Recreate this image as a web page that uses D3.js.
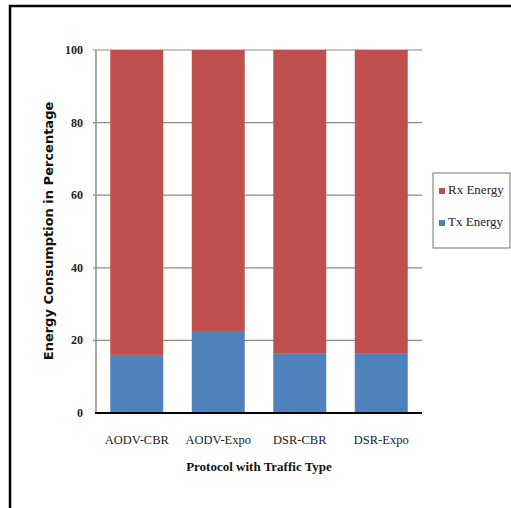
<!DOCTYPE html>
<html>
<head>
<meta charset="utf-8">
<script src="https://cdn.jsdelivr.net/npm/d3@7"></script>
<style>
  body { margin: 0; background: #fff; }
</style>
</head>
<body>
<script>
// chart data
const categories = ["AODV-CBR", "AODV-Expo", "DSR-CBR", "DSR-Expo"];
const txEnergy = [16.0, 22.6, 16.3, 16.5];
const rxEnergy = [84.0, 77.4, 83.7, 83.5];
const yTicks = [0, 20, 40, 60, 80, 100];
const seriesNames = ["Rx Energy", "Tx Energy"];
const seriesColors = ["#C0504D", "#4F81BD"];

const W = 511, H = 508;
const svg = d3.select("body").append("svg")
  .attr("width", W).attr("height", H);

// outer frame (top and left only)
svg.append("line").attr("x1", 9).attr("x2", W).attr("y1", 6).attr("y2", 6)
  .attr("stroke", "#000").attr("stroke-width", 2.5);
svg.append("line").attr("x1", 10).attr("x2", 10).attr("y1", 5).attr("y2", H)
  .attr("stroke", "#000").attr("stroke-width", 2.5);

const plotL = 96, plotR = 422, plotT = 50, plotB = 413;

const x = d3.scaleBand().domain(categories).range([plotL, plotR]).paddingInner(0.35).paddingOuter(0.175);
const y = d3.scaleLinear().domain([0, 100]).range([plotB, plotT]);

// gridlines
svg.append("g")
  .selectAll("line")
  .data(yTicks.filter(d => d > 0))
  .join("line")
  .attr("x1", plotL - 3).attr("x2", plotR)
  .attr("y1", d => y(d)).attr("y2", d => y(d))
  .attr("stroke", "#8c8c8c").attr("stroke-width", 1.2);

// y axis line
svg.append("line").attr("x1", plotL).attr("x2", plotL).attr("y1", plotT).attr("y2", plotB)
  .attr("stroke", "#8c8c8c").attr("stroke-width", 1.5);

// stacked bars
const rows = categories.map((c, i) => ({ cat: c, tx: txEnergy[i], rx: rxEnergy[i] }));
const stack = d3.stack().keys(["tx", "rx"])(rows);
const colorOf = { tx: seriesColors[1], rx: seriesColors[0] };

svg.append("g")
  .selectAll("g")
  .data(stack)
  .join("g")
  .attr("fill", d => colorOf[d.key])
  .selectAll("rect")
  .data(d => d)
  .join("rect")
  .attr("x", d => x(d.data.cat))
  .attr("width", x.bandwidth())
  .attr("y", d => y(Math.min(d[1], 100)))
  .attr("height", d => y(d[0]) - y(Math.min(d[1], 100)));

// x axis baseline
svg.append("line").attr("x1", plotL - 1).attr("x2", plotR).attr("y1", plotB).attr("y2", plotB)
  .attr("stroke", "#000").attr("stroke-width", 2);

// y tick labels
svg.append("g")
  .selectAll("text")
  .data(yTicks)
  .join("text")
  .attr("x", 83).attr("y", d => y(d) + 4)
  .attr("text-anchor", "end")
  .attr("font-family", "Liberation Serif, serif")
  .attr("font-size", 12)
  .attr("font-weight", "bold")
  .attr("fill", "#222")
  .text(d => d);

// category labels
svg.append("g")
  .selectAll("text")
  .data(categories)
  .join("text")
  .attr("x", d => x(d) + x.bandwidth() / 2)
  .attr("y", 444)
  .attr("text-anchor", "middle")
  .attr("font-family", "Liberation Serif, serif")
  .attr("font-size", 12.5)
  .attr("fill", "#222")
  .text(d => d);

// axis titles
svg.append("text")
  .attr("x", 259).attr("y", 471)
  .attr("text-anchor", "middle")
  .attr("font-family", "Liberation Serif, serif")
  .attr("font-size", 13)
  .attr("font-weight", "bold")
  .attr("fill", "#111")
  .text("Protocol with Traffic Type");

svg.append("text")
  .attr("transform", "translate(53,231) rotate(-90)")
  .attr("text-anchor", "middle")
  .attr("font-family", "DejaVu Sans, sans-serif")
  .attr("font-size", 13)
  .attr("font-weight", "bold")
  .attr("fill", "#111")
  .text("Energy Consumption in Percentage");

// legend
const lg = svg.append("g").attr("transform", "translate(433,173)");
lg.append("rect").attr("width", 77).attr("height", 75)
  .attr("fill", "#fff").attr("stroke", "#777").attr("stroke-width", 1);
const item = lg.selectAll("g.item")
  .data(seriesNames)
  .join("g").attr("class", "item")
  .attr("transform", (d, i) => `translate(6,${21 + i * 32})`);
item.append("rect").attr("x", 0).attr("y", -6).attr("width", 6).attr("height", 6)
  .attr("fill", (d, i) => seriesColors[i]);
item.append("text").attr("x", 9).attr("y", 0)
  .attr("font-family", "Liberation Serif, serif")
  .attr("font-size", 13)
  .attr("fill", "#222")
  .text(d => d);
</script>
</body>
</html>
